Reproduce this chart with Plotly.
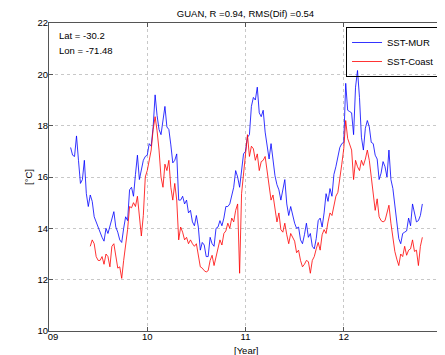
import numpy as np
import plotly.graph_objects as go

# sampling: every 0.02 year, starting dates
mur_start, coast_start, step = 9.22, 9.42, 0.02

sst_mur = [
    17.15, 16.85, 16.8, 17.6, 16.65, 15.75, 15.9, 16.65, 15.35, 14.85,
    15.3, 15.05, 14.45, 14.25, 14.0, 13.8, 13.65, 13.5, 14.0, 13.8,
    14.1, 14.45, 14.65, 14.05, 13.85, 13.55, 13.45, 14.0, 14.45, 14.3,
    15.5, 15.6, 15.25, 16.1, 16.85, 15.9, 16.25, 16.65, 16.8,
    16.85, 17.3, 17.2, 17.95, 19.2, 18.4, 17.85, 17.65, 18.2, 18.75,
    17.95, 17.85, 17.25, 16.55, 16.65, 16.9, 15.1, 15.1, 15.25, 14.95,
    15.1, 14.6, 14.7, 14.25, 14.1, 14.5, 14.05, 13.15, 13.45, 13.35,
    12.9, 12.9, 13.65, 13.4, 13.3, 14.0, 14.05, 14.3, 14.1, 14.4,
    14.85, 14.85, 14.95, 15.35, 15.6, 16.25, 16.0, 15.6, 16.25, 16.9,
    17.0, 17.55, 17.65, 18.75, 19.1, 19.0, 19.5, 18.5, 18.35, 18.6,
    17.75, 17.2, 16.7, 17.3, 16.65, 16.05, 15.7, 15.5, 15.1, 15.5,
    15.9, 14.95, 14.5, 14.85, 14.45, 14.2, 14.0, 14.05, 13.55, 13.4,
    13.75, 14.2, 13.65, 13.8, 13.3, 13.2, 13.6, 14.3, 14.4, 14.05,
    14.6, 15.35, 15.05, 15.55, 15.25, 16.1, 16.4, 16.8, 17.15, 17.3,
    17.35, 19.65, 18.6, 18.55, 18.5, 17.65, 19.5, 20.15, 19.1, 17.55,
    17.05, 17.9, 18.2, 17.95, 17.35, 17.3, 16.85, 16.7, 15.9, 16.15,
    16.6, 16.4, 16.0, 17.05, 15.9, 15.55, 14.85, 14.25, 13.6, 13.4,
    13.8, 13.85, 13.9, 14.4, 14.1, 14.95, 14.55, 14.25, 14.3, 14.5,
    14.95,
]

sst_coast = [
    13.3, 13.55, 13.4, 12.9, 12.75, 12.75, 12.9, 12.6, 13.0, 12.9,
    12.5, 13.3, 13.4, 12.9, 12.45, 12.5, 12.05, 12.75, 13.3, 13.95,
    14.85, 14.8, 15.0, 14.85, 15.25, 14.45, 13.7, 14.5, 16.0,
    16.25, 16.65, 17.05, 17.85, 18.35, 17.8, 17.05, 16.0, 15.6, 16.5,
    16.25, 16.65, 15.6, 15.1, 15.75, 15.1, 13.55, 14.05, 13.85, 13.55,
    13.65, 13.4, 13.55, 13.4, 13.3, 13.4, 13.0, 12.5, 12.45, 12.35,
    12.3, 12.35, 12.75, 12.95, 12.55, 12.9, 13.15, 13.55, 13.35, 13.8,
    13.9, 14.2, 14.0, 14.4, 14.25, 14.7, 14.95, 12.25, 15.35, 16.1,
    16.9, 17.65, 16.8, 17.2, 17.1, 16.65, 16.9, 16.25, 16.6, 16.65,
    16.8, 16.15, 15.55, 15.1, 15.3, 14.75, 14.25, 14.6, 13.95, 13.85,
    14.2, 13.75, 13.4, 13.8, 13.65, 13.5, 13.05, 13.15, 12.75, 12.5,
    12.6, 12.75, 12.7, 12.25, 12.75, 12.9, 13.2, 13.45, 13.15, 13.75,
    13.95, 13.8, 14.25, 14.6, 14.5, 14.95, 15.25, 15.4, 15.9, 16.5,
    17.1, 18.2, 17.5, 17.25, 17.05, 15.9, 16.65, 16.4, 16.25, 16.65,
    16.45, 16.7, 17.05, 16.65, 15.95, 15.25, 14.7, 15.15, 14.45, 14.3,
    14.25, 14.3, 14.55, 14.9, 14.2, 13.6, 13.1, 12.8, 12.55, 13.0,
    12.9, 13.3, 12.95, 13.15, 13.2, 13.55, 13.1, 13.15, 12.55, 13.3,
    13.65,
]

x_ticks = [9, 10, 11, 12, 13]
x_ticklabels = ["\u00a0\u00a0\u00a009", "10", "11", "12", "13"]
y_ticks = [10, 12, 14, 16, 18, 20, 22]

t_mur = np.round(mur_start + step * np.arange(len(sst_mur)), 3)
t_coast = np.round(coast_start + step * np.arange(len(sst_coast)), 3)

FONT = "Liberation Sans, Arial, sans-serif"
FS = 9.5

fig = go.Figure()
fig.add_trace(go.Scatter(x=t_mur, y=sst_mur, mode="lines", name="SST-MUR",
                         line=dict(color="#0000ff", width=0.8)))
fig.add_trace(go.Scatter(x=t_coast, y=sst_coast, mode="lines", name="SST-Coast",
                         line=dict(color="#ff0000", width=0.8)))

axis_common = dict(showline=True, linecolor="#555555", linewidth=1, mirror="allticks",
                   ticks="inside", ticklen=4, tickcolor="#555555",
                   showgrid=True, gridcolor="#c8c8c8", griddash="dot", gridwidth=1,
                   zeroline=False, tickfont=dict(size=FS, color="#000000", family=FONT))

fig.update_xaxes(range=[9, 13], tickvals=x_ticks, ticktext=x_ticklabels,
                 ticklabelstandoff=-3, ticklabeloverflow="allow", **axis_common)
fig.update_yaxes(range=[10, 22], tickvals=y_ticks, ticklabelstandoff=-2,
                 ticklabeloverflow="allow", **axis_common)

# page body adds an 8px offset, so the figure is 8px smaller than the window
W, H = 437, 347
ML, MR, MT, MB = 41, 3, 15, 24
PW, PH = W - ML - MR, H - MT - MB

fig.update_layout(
    width=W, height=H,
    margin=dict(l=ML, r=MR, t=MT, b=MB, autoexpand=False),
    paper_bgcolor="white", plot_bgcolor="white",
    font=dict(family=FONT, size=FS, color="#000"),
    title=dict(text="GUAN, R =0.94, RMS(Dif) =0.54", x=0.5, xref="paper",
               y=1 - 5.5 / H, yref="container", yanchor="middle",
               font=dict(size=FS, family=FONT, color="#000")),
    legend=dict(x=0.995, y=0.987, xanchor="right", yanchor="top",
                bordercolor="#000", borderwidth=1, bgcolor="rgba(255,255,255,0)",
                font=dict(size=FS, family=FONT), tracegroupgap=0),
    showlegend=True,
    annotations=[
        dict(text="Lat = -30.2", xref="paper", yref="paper", x=0.02, y=0.961,
             xanchor="left", yanchor="middle", showarrow=False, font=dict(size=FS, family=FONT)),
        dict(text="Lon = -71.48", xref="paper", yref="paper", x=0.02, y=0.912,
             xanchor="left", yanchor="middle", showarrow=False, font=dict(size=FS, family=FONT)),
        dict(text="[Year]", xref="paper", yref="paper", x=0.5, y=-19.5 / PH,
             xanchor="center", yanchor="middle", showarrow=False, font=dict(size=FS, family=FONT)),
        dict(text="[°C]", xref="paper", yref="paper", x=-21 / PW, y=0.5, textangle=-90,
             xanchor="center", yanchor="middle", showarrow=False, font=dict(size=FS, family=FONT)),
    ],
)

fig.write_html("out.html")
